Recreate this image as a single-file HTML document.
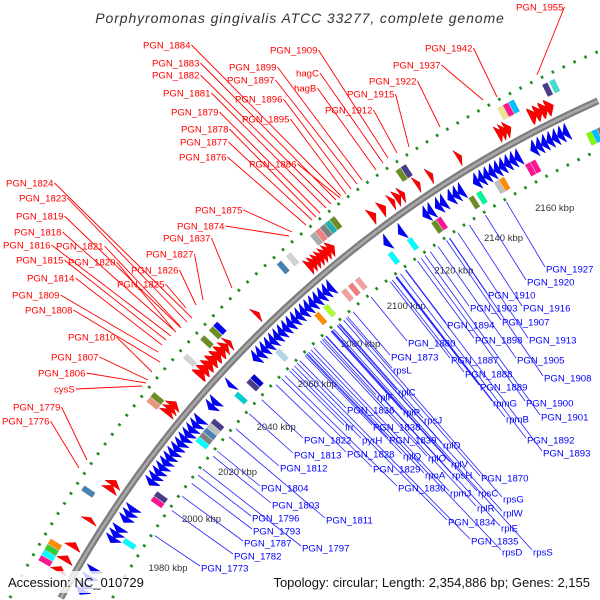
<!DOCTYPE html>
<html><head><meta charset="utf-8"><style>
html,body{margin:0;padding:0;background:#fff;width:600px;height:600px;overflow:hidden;}
svg{display:block;font-family:"Liberation Sans","DejaVu Sans",sans-serif;overflow:hidden;}
</style></head><body>
<svg id="map" width="600" height="600" viewBox="0 0 600 600">
<rect x="0" y="0" width="600" height="600" fill="#fff"/>
<g id="rings"></g>
<g id="features"></g>
<g id="ticks"></g>
<g id="labels"></g>
<text x="300" y="23" text-anchor="middle" font-style="italic" font-size="14" letter-spacing="0.9" fill="#333">Porphyromonas gingivalis ATCC 33277, complete genome</text>
<rect x="4" y="571" width="138" height="22" fill="#fff" fill-opacity="0.8"/>
<text x="8" y="587" font-size="13" fill="#111">Accession: NC_010729</text>
<text x="590" y="587" text-anchor="end" font-size="13" fill="#111">Topology: circular; Length: 2,354,886 bp; Genes: 2,155</text>
</svg>
<script>
// ---- data (kbp) ----
const fwdStarts=[2173,2175,2177,2179,2161,2162.5,2164,2146,2112,2116,2120,2122,2124,2130,2135,2086,2087.5,2089,2090.5,2092,2093.5,2095,2063,2036,2038,2040,2042,2044,2046,2048,2050,2020,2021.5,2023,1989,1991,1977,1967,1962,1958];
const fwdEnds  =[2175.5,2177.5,2179.5,2181.5,2163,2164.5,2166,2147.5,2114,2118,2121.5,2124,2125.5,2131.5,2136.5,2088,2089.5,2091,2092.5,2094,2095.5,2097,2064.5,2038.5,2040.5,2042.5,2044.5,2046.5,2048.5,2050,2051.5,2022,2023.5,2025,1991,1993,1978.5,1969,1964,1960];
const revStarts=[2194,2196,2198,2200,2203,2205,2208,2210,2213,2215,2218,2220,2168,2170,2172,2174,2176,2178,2180,2146,2148,2150,2152,2154,2156,2158,2160,2162,2126,2128,2131,2133,2136,2138,2140,2110,2116,2052,2054,2056,2058,2060,2062,2064,2066,2068,2070,2072,2074,2076,2078,2080,2082,2084,2086,2040,2030,2032,1998,2000,2002,2004,2006,2008,2010,2012,2014,2016,2018,2020,2022,2024,1975,1977,1979,1983,1985,1987,1955,1957,1960,1963];
const revEnds  =[2196,2198,2200,2202,2205,2207,2210,2212,2215,2217,2220,2222,2170,2172,2174,2176,2178,2180,2182,2148,2150,2152,2154,2156,2158,2160,2162,2164,2128,2130,2133,2135,2138,2140,2142,2112,2118,2054,2056,2058,2060,2062,2064,2066,2068,2070,2072,2074,2076,2078,2080,2082,2084,2086,2088,2041.5,2032,2034,2000,2002,2004,2006,2008,2010,2012,2014,2016,2018,2020,2022,2024,2026,1977,1979,1981,1985,1987,1989,1957,1959,1962,1965];
const cogKbp  =[2182,2184.5,2166,2168,2170,2128,2130,2094,2096,2098,2100,2102,2084,2080,2046,2050,2052,2038,2020,2022,1985,1965,1963,1961,1959,2196,2188,2190,2192,2165,2167,2153,2155,2146,2143,2130,2128,2118,2110,2090,2093,2096,2082,2078,2060,2048,2046,2040,2028,2026,2024,2022,2020,1997,1995,1978];
const cogSide =[1,1,1,1,1,1,1,1,1,1,1,1,1,1,1,1,1,1,1,1,1,1,1,1,1,-1,-1,-1,-1,-1,-1,-1,-1,-1,-1,-1,-1,-1,-1,-1,-1,-1,-1,-1,-1,-1,-1,-1,-1,-1,-1,-1,-1,-1,-1,-1];
const cogColor=["#483d8b","#40e0d0","#f0e68c","#ff1493","#00bfff","#6b8e23","#483d8b","#a9a9a9","#f08080","#808080","#20b2aa","#6b8e23","#d3d3d3","#4682b4","#6b8e23","#6b8e23","#0000ff","#d3d3d3","#e9967a","#6b8e23","#4682b4","#ff8c00","#32cd32","#00ffff","#ff1493","#ff1493","#7cfc00","#00bfff","#808080","#ff1493","#ff1493","#c0c0c0","#ff8c00","#00fa9a","#6b8e23","#ff1493","#6b8e23","#00ffff","#00ffff","#f4a0a0","#f08080","#f4a0a0","#adff2f","#ff8c00","#add8e6","#0000cd","#483d8b","#00ced1","#483d8b","#c0c0c0","#4682b4","#808080","#00ffff","#483d8b","#ff1493","#00ffff"];
const tickKbp=[1980,2000,2020,2040,2060,2080,2100,2120,2140,2160];

// ---- layout ----
const NS="http://www.w3.org/2000/svg";
const CX=1065,CY=1144,R=1143;
function ang(k){return (240.5+(k-2160)*0.1529)*Math.PI/180;}
function tickAng(k){return (241.4+(k-2160)*0.1594)*Math.PI/180;}
function pt(r,a){return [CX+r*Math.cos(a),CY+r*Math.sin(a)];}
function P(arr){return arr.map(p=>p[0].toFixed(1)+","+p[1].toFixed(1)).join(" ");}
function mk(tag,attrs,parent){const e=document.createElementNS(NS,tag);for(const k in attrs)e.setAttribute(k,attrs[k]);parent.appendChild(e);return e;}
function arcPath(r){
  const a0=Math.PI+Math.asin((CY-598)/r);
  const a1=Math.PI+Math.acos((CX-598)/r);
  const p0=pt(r,a0),p1=pt(r,a1);
  return "M"+p0[0].toFixed(1)+","+p0[1].toFixed(1)+" A"+r+","+r+" 0 0 1 "+p1[0].toFixed(1)+","+p1[1].toFixed(1);
}

const rings=document.getElementById('rings');
let c;
c=mk('path',{d:arcPath(R),fill:'none',stroke:'#7d7d7d','stroke-width':7},rings);


c=mk('path',{d:arcPath(R),fill:'none',stroke:'#a9a9a9','stroke-width':2.5},rings);


c=mk('path',{d:arcPath(R+45),fill:'none',stroke:'#228b22','stroke-width':3,'stroke-dasharray':'2.5 9.5'},rings);


c=mk('path',{d:arcPath(R-45),fill:'none',stroke:'#228b22','stroke-width':3,'stroke-dasharray':'2.5 9.5'},rings);



const feat=document.getElementById('features');
const HEAD=7/R;
for(let i=0;i<fwdStarts.length;i++){
  const a0=ang(fwdStarts[i]),a1=ang(fwdEnds[i]);const h=Math.min(HEAD,a1-a0);
  const r0=R+8,r1=R+22;
  const g=mk('polygon',{points:P([pt(r0,a0),pt(r1,a0),pt(r1+2,a1-h),pt((r0+r1)/2,a1),pt(r0-2,a1-h)]),fill:'#ff0000',stroke:'#d00000','stroke-width':0.5},feat);
  
  
}
for(let i=0;i<revStarts.length;i++){
  const a0=ang(revStarts[i]),a1=ang(revEnds[i]);const h=Math.min(HEAD,a1-a0);
  const r0=R-22,r1=R-8;
  const g=mk('polygon',{points:P([pt(r0,a1),pt(r1,a1),pt(r1+2,a0+h),pt((r0+r1)/2,a0),pt(r0-2,a0+h)]),fill:'#0000ff',stroke:'#0000c0','stroke-width':0.5},feat);
  
  
}
for(let i=0;i<cogKbp.length;i++){
  const a0=ang(cogKbp[i]-0.9),a1=ang(cogKbp[i]+0.9);
  const r0=cogSide[i]>0?R+25:R-38,r1=r0+13;
  const g=mk('polygon',{points:P([pt(r0,a0),pt(r1,a0),pt(r1,a1),pt(r0,a1)]),fill:cogColor[i],stroke:'rgba(0,0,0,0.15)','stroke-width':0.5},feat);
  
  
}
const ticks=document.getElementById('ticks');
for(let i=0;i<tickKbp.length;i++){
  const p=pt(1066,tickAng(tickKbp[i]));
  const t=mk('text',{x:p[0].toFixed(1),y:(p[1]+3).toFixed(1),'text-anchor':'middle','font-size':9.5,fill:'#333'},ticks);
  t.textContent=tickKbp[i]+" kbp";
  
  
}

// ---- label layout (annotation placement) ----
const redLabelLayout=[
['PGN_1955',516,7,537,75],['PGN_1942',425,48,497,97],['PGN_1937',393,65,483,100],['PGN_1922',369,81,440,127],
['PGN_1915',347,94,409,147],['PGN_1912',325,110,397,153],['PGN_1909',270,50,388,158],['hagC',296,73,383,163],
['hagB',294,88,376,170],['PGN_1899',229,67,362,180],['PGN_1897',227,80,357,184],['PGN_1896',235,99,351,189],
['PGN_1895',242,119,346,194],['PGN_1884',143,45,341,196],['PGN_1883',152,63,336,200],['PGN_1882',152,75,331,204],
['PGN_1881',163,93,326,208],['PGN_1879',171,112,320,213],['PGN_1878',181,129,316,217],['PGN_1877',180,142,312,220],
['PGN_1876',179,157,306,225],['PGN_1886',249,164,340,198],['PGN_1875',195,210,292,232],['PGN_1874',177,226,289,236],
['PGN_1837',163,238,232,288],['PGN_1827',146,254,203,300],['PGN_1826',131,270,196,305],['PGN_1825',117,284,186,308],
['PGN_1824',6,183,192,318],['PGN_1823',19,198,187,322],['PGN_1819',16,216,181,328],['PGN_1818',14,232,176,332],
['PGN_1816',3,245,171,336],['PGN_1821',56,246,180,326],['PGN_1820',68,262,174,330],['PGN_1815',16,260,166,340],
['PGN_1814',27,278,162,345],['PGN_1809',12,295,158,352],['PGN_1808',25,310,160,362],['PGN_1810',68,337,152,372],
['PGN_1807',51,357,148,380],['PGN_1806',38,373,146,383],['cysS',54,389,142,386],['PGN_1779',13,407,87,460],['PGN_1776',2,421,79,468]];
const blueLabelLayout=[
['PGN_1927',546,269],['PGN_1920',527,282],['PGN_1910',488,295],['PGN_1916',523,308],['PGN_1903',470,308],
['PGN_1907',502,322],['PGN_1894',447,325],['PGN_1913',529,340],['PGN_1898',475,340],['PGN_1880',408,343],
['PGN_1873',391,357],['PGN_1905',517,360],['PGN_1887',451,360],['rpsL',393,370],['PGN_1888',465,374],
['PGN_1908',544,378],['PGN_1889',480,387],['rplC',398,392],['rplF',377,397],['rpmG',493,403],['PGN_1900',526,403],
['PGN_1836',347,410],['rplP',403,412],['PGN_1901',541,417],['rpsJ',424,420],['rpmB',506,419],['frr',345,427],
['PGN_1838',373,427],['rplD',443,445],['PGN_1822',304,440],['pyrH',362,440],['PGN_1839',389,440],['PGN_1892',527,440],
['PGN_1813',294,455],['PGN_1828',347,454],['rplQ',403,456],['rplO',428,458],['PGN_1893',543,453],['rplV',451,464],
['PGN_1812',280,468],['PGN_1829',373,469],['rpoA',425,475],['rpsH',452,475],['PGN_1870',481,478],['PGN_1804',261,488],
['PGN_1830',398,488],['rpmJ',450,493],['rpsC',478,493],['rpsG',503,499],['PGN_1803',272,505],['PGN_1811',326,520],
['rplR',477,508],['rplW',503,513],['PGN_1796',252,518],['PGN_1834',448,522],['rplE',501,528],['PGN_1793',253,531],
['PGN_1787',244,543],['PGN_1797',302,548],['PGN_1835',471,541],['PGN_1782',234,556],['rpsD',502,552],['rpsS',533,552],['PGN_1773',201,568]];

const labels=document.getElementById('labels');
const lineG=mk('g',{},labels);


for(const L of redLabelLayout){
  const t=mk('text',{x:L[1],y:L[2]+3.5,'font-size':9.6,fill:'#ff0000'},labels);
  t.textContent=L[0];
  
  
  const w=t.getComputedTextLength();
  const l=mk('line',{x1:L[1]+w+1,y1:L[2],x2:L[3],y2:L[4],stroke:'#ff0000','stroke-width':0.9},lineG);
  
  
}
for(const L of blueLabelLayout){
  const t=mk('text',{x:L[1],y:L[2]+3.5,'font-size':9.6,fill:'#0000ff'},labels);
  t.textContent=L[0];
  
  
  const ax=L[1]-1,ay=L[2]-2;const dx=ax-CX,dy=ay-CY;const d=Math.hypot(dx,dy);const f=(R-48)/d;
  const l=mk('line',{x1:ax,y1:ay,x2:(CX+dx*f).toFixed(1),y2:(CY+dy*f).toFixed(1),stroke:'#2222ff','stroke-width':0.8},lineG);
  
  
}
</script>
</body></html>
